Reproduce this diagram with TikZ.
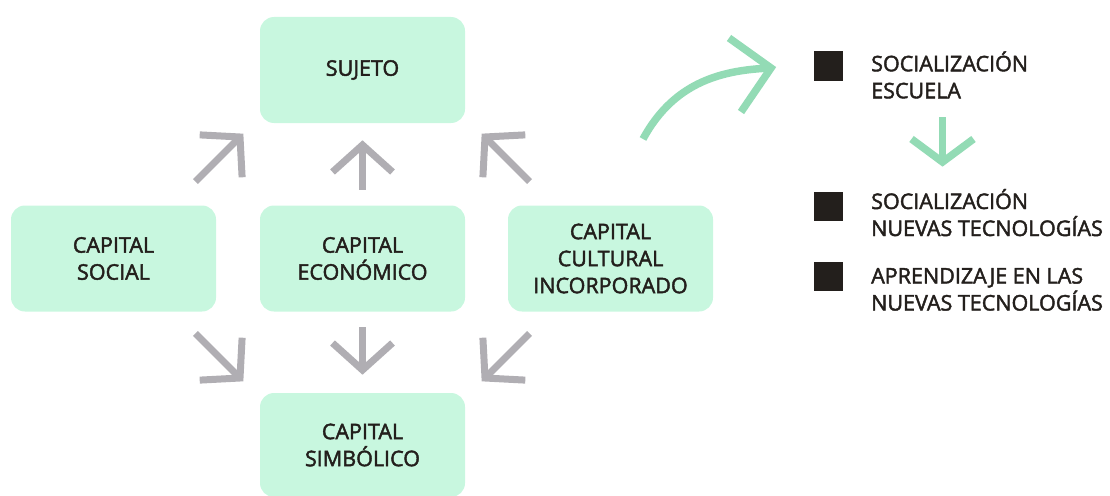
\documentclass[tikz,border=0pt]{standalone}
\usepackage{fontspec}
\setmainfont{Open Sans}[FakeBold=2]
\definecolor{mint}{HTML}{C8F7DF}
\definecolor{ink}{HTML}{231F1C}
\definecolor{greyarr}{HTML}{B0AEB3}
\definecolor{greenarr}{HTML}{93DBB5}
\tikzset{
  box/.style={fill=mint, rounded corners=14pt, minimum width=205pt, minimum height=106pt,
    inner sep=0pt, align=center, text=ink, font=\fontsize{21.5}{27}\selectfont},
  legtext/.style={anchor=base west, inner sep=0pt, align=left, text=ink, font=\fontsize{21.5}{27}\selectfont},
  bullet/.style={fill=ink, minimum size=29pt, inner sep=0pt},
  gline/.style={draw=greyarr, line width=7pt, line cap=butt, line join=miter},
  grline/.style={draw=greenarr, line width=7.5pt, line cap=butt, line join=miter},
  pics/garrow/.style={code={
    \draw[gline] (0,0) -- (0,-#1);
    \draw[gline] (-30,-27) -- (0,0) -- (30,-27);
  }}
}
\begin{document}
\begin{tikzpicture}[x=1pt,y=1pt]
\useasboundingbox (0,0) rectangle (1110,-495);
\begin{scope}
\clip (0,0) rectangle (1110,-495);
\node[box] (sujeto) at (362.5,-70) {SUJETO};
\node[box] (social) at (113.5,-258.5) {CAPITAL\\SOCIAL};
\node[box] (economico) at (362.5,-258.5) {CAPITAL\\ECONÓMICO};
\node[box] (cultural) at (610.5,-258.5) {CAPITAL\\CULTURAL\\INCORPORADO};
\node[box, minimum height=104pt] (simbolico) at (362.5,-445) {CAPITAL\\SIMBÓLICO};
\end{scope}
% grey arrows
\pic at (362.5,-145) {garrow=45};
\pic[rotate=-45] at (240,-137) {garrow=63};
\pic[rotate=45] at (485,-137) {garrow=63};
\pic[rotate=180] at (362.5,-370) {garrow=43};
\pic[rotate=-135] at (240,-378) {garrow=63};
\pic[rotate=135] at (485,-378) {garrow=63};
% green curved arrow
\coordinate (cstart) at (643,-139);
\coordinate (ctip) at (771,-68);
\draw[grline] (cstart) .. controls (675,-80) and (725,-70) .. (ctip);
\draw[grline] (729,-38) -- (ctip) -- (741,-112);
% legend
\node[bullet] (b1) at (828.5,-66) {};
\node[bullet] (b2) at (828.5,-206) {};
\node[bullet] (b3) at (828.5,-276) {};
\node[legtext] (t1) at (871,-98.3) {SOCIALIZACIÓN\\ESCUELA};
\node[legtext] (t2) at (871,-236) {SOCIALIZACIÓN\\NUEVAS TECNOLOGÍAS};
\node[legtext] (t3) at (871,-310.5) {APRENDIZAJE EN LAS\\NUEVAS TECNOLOGÍAS};
% green down arrow
\coordinate (dtop) at (942.5,-117);
\coordinate (dtip) at (942.5,-162);
\draw[grline] (dtop) -- (dtip);
\draw[grline] (911.5,-139) -- (dtip) -- (973.5,-139);
\end{tikzpicture}
\end{document}
